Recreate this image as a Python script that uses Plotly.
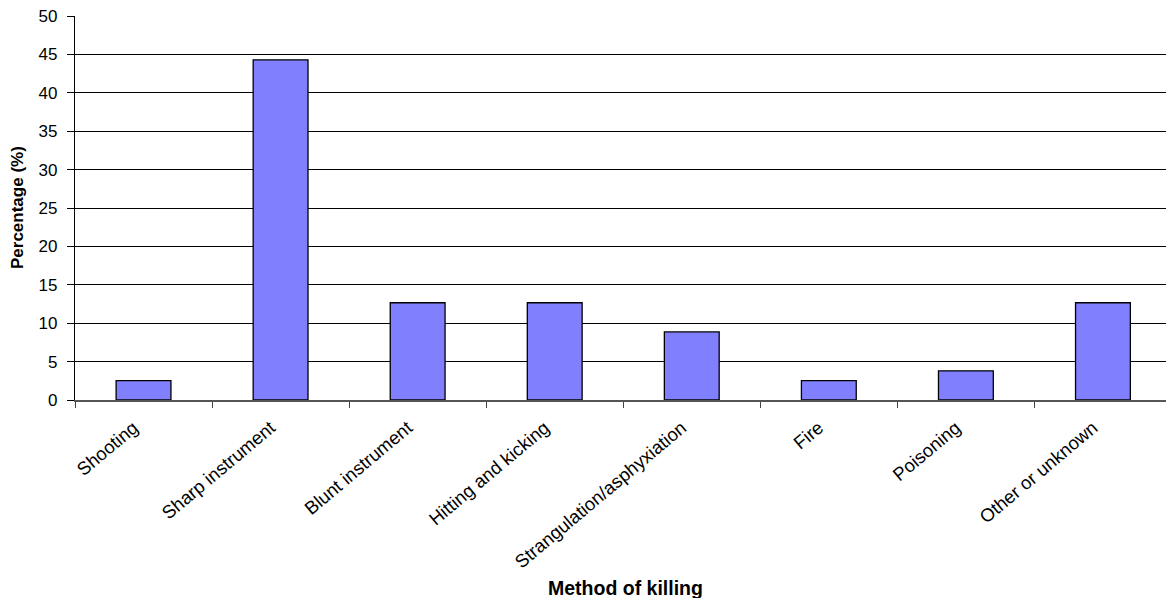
import plotly.graph_objects as go

categories = ["Shooting", "Sharp instrument", "Blunt instrument", "Hitting and kicking",
              "Strangulation/asphyxiation", "Fire", "Poisoning", "Other or unknown"]
percentages = [2.53, 44.30, 12.66, 12.66, 8.86, 2.53, 3.80, 12.66]
y_ticks = [0, 5, 10, 15, 20, 25, 30, 35, 40, 45, 50]

FONT = "Liberation Sans, Arial, sans-serif"

W, H = 1166, 598
L, T, B = 75, 16, 197.5
plot_w = W - L
plot_h = H - T - B

fig = go.Figure(go.Bar(
    x=categories, y=percentages,
    marker=dict(color="#8080FF", line=dict(color="black", width=1.3)),
    width=0.4,
))

fig.update_layout(
    width=W, height=H,
    margin=dict(l=L, r=0, t=T, b=B, pad=0),
    paper_bgcolor="white", plot_bgcolor="white",
    showlegend=False,
    font=dict(family=FONT, color="black"),
)

fig.update_xaxes(
    range=[-0.5, 7.46],
    tickson="boundaries", ticks="outside", ticklen=6, tickcolor="#444444",
    tickangle=-40, tickfont=dict(size=18.5, family=FONT, color="black"),
    ticklabelshift=-10, ticklabelstandoff=8,
    showline=True, linecolor="#555555", linewidth=1.5,
    showgrid=False,
)

fig.update_yaxes(
    range=[0, 50], tickvals=y_ticks, ticktext=[str(v) for v in y_ticks],
    ticks="outside", ticklen=7, tickcolor="black",
    tickfont=dict(size=17, family=FONT, color="black"),
    ticklabelstandoff=6,
    showline=True, linecolor="black", linewidth=1.3,
    showgrid=True, gridcolor="black", gridwidth=1,
    zeroline=False,
)

fig.add_annotation(
    text="<b>Method of killing</b>", xref="x", x=3.52, yref="paper", y=-(188.5 / plot_h),
    xanchor="center", yanchor="middle", showarrow=False,
    font=dict(size=19.5, family=FONT, color="black"),
)
fig.add_annotation(
    text="<b>Percentage (%)</b>", xref="paper", x=-(58 / plot_w), yref="paper", y=0.5,
    xanchor="center", yanchor="middle", textangle=-90, showarrow=False,
    font=dict(size=17, family=FONT, color="black"),
)

fig.write_html("out.html", config={"displayModeBar": False},
               post_script="document.body.style.margin='0';")
